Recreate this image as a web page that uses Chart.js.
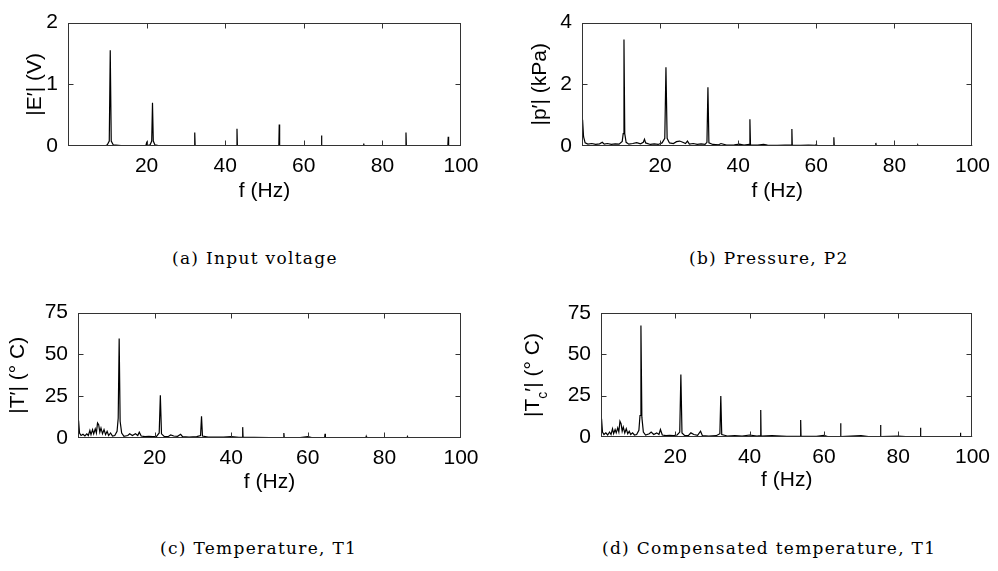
<!DOCTYPE html>
<html>
<head>
<meta charset="utf-8">
<script src="https://cdn.jsdelivr.net/npm/chart.js@4.4.0/dist/chart.umd.min.js"></script>
<style>
body{margin:0;background:#fff;width:998px;height:571px;position:relative;overflow:hidden}
canvas{position:absolute}
.cap{position:absolute;font-family:"DejaVu Serif",serif;font-size:17px;letter-spacing:1.3px;line-height:20px;color:#000;white-space:nowrap}
</style>
</head>
<body>
<canvas id="ca" width="499" height="204" style="left:0;top:0"></canvas>
<canvas id="cb" width="499" height="204" style="left:499px;top:0"></canvas>
<canvas id="cc" width="499" height="205" style="left:0;top:290px"></canvas>
<canvas id="cd" width="499" height="203" style="left:499px;top:290px"></canvas>
<div class="cap" style="left:172px;top:248px">(a) Input voltage</div>
<div class="cap" style="left:689px;top:248px">(b) Pressure, P2</div>
<div class="cap" style="left:160px;top:538px">(c) Temperature, T1</div>
<div class="cap" style="left:602px;top:538px">(d) Compensated temperature, T1</div>
<script>
// frequency axis ticks (Hz)
const xTicks = [20, 40, 60, 80, 100];
const yTicksA = [0, 1, 2];
const yTicksB = [0, 2, 4];
const yTicksT = [0, 25, 50, 75];

// spectra: [f (Hz), magnitude]
const specA = [[0.3,0],[9.5,0.005],[10.0,0.02],[10.5,0.08],[10.75,1.55],[11.0,0.08],[11.5,0.02],[13.5,0.005],
  [19.8,0.005],[20.0,0.05],[20.2,0.005],[20.9,0.02],[21.3,0.08],[21.5,0.70],[21.7,0.08],[22.1,0.02],[23,0.005],
  [32.15,0.005],[32.25,0.22],[32.35,0.005],[42.9,0.005],[43.0,0.28],[43.1,0.005],[53.65,0.01],[53.75,0.35],[53.85,0.01],
  [64.4,0.005],[64.5,0.17],[64.6,0.005],[75.15,0],[75.25,0.04],[75.35,0],[85.9,0],[86.0,0.22],[86.1,0],
  [96.65,0],[96.75,0.15],[96.85,0],[100,0]];

const specB = [[0.15,0.85],[0.4,0.3],[0.8,0.1],[1.5,0.06],[2.5,0.08],[3.5,0.05],[4.5,0.07],[5.2,0.12],[5.7,0.06],
  [6.5,0.08],[7.5,0.05],[8.5,0.07],[9.5,0.06],[10.3,0.15],[10.55,0.4],[10.75,3.45],[10.95,0.4],[11.3,0.12],[12,0.06],
  [13,0.08],[14,0.11],[15,0.07],[15.7,0.12],[16.0,0.22],[16.3,0.1],[17.5,0.05],[18.5,0.07],[19.5,0.05],[20.5,0.1],
  [21.2,0.25],[21.5,2.55],[21.8,0.25],[22.4,0.1],[23.4,0.08],[24.2,0.14],[25.0,0.16],[25.8,0.12],[26.5,0.08],[27.0,0.16],
  [27.5,0.06],[28.5,0.08],[29.5,0.05],[30.5,0.07],[31.5,0.05],[32.0,0.12],[32.25,1.9],[32.5,0.1],[33.5,0.05],[35,0.04],
  [35.6,0.08],[37,0.03],[39,0.04],[40.3,0.06],[41.5,0.03],[42.85,0.05],[43.0,0.87],[43.15,0.04],[45,0.03],[46.5,0.05],
  [47.5,0.03],[50,0.02],[52,0.03],[53.65,0.03],[53.75,0.55],[53.85,0.02],[56,0.02],[58,0.03],[59.8,0.02],[60,0.05],
  [60.2,0.02],[62,0.01],[64.4,0.01],[64.5,0.28],[64.6,0.01],[68,0.01],[72,0.01],[75.15,0.01],[75.25,0.1],[75.35,0.01],
  [80,0.01],[85.9,0.01],[86.0,0.03],[86.1,0.01],[92,0.01],[100,0.01]];

const specC = [[0.15,10.5],[0.4,3],[0.8,1.5],[1.3,2.2],[1.8,1.2],[2.3,2.5],[2.7,1.5],[3.1,4.5],[3.4,2],[3.8,5],[4.1,2.5],
  [4.5,5.5],[4.8,3],[5.1,9],[5.4,8],[5.7,3.5],[6.0,6],[6.4,2.5],[6.8,5],[7.2,2],[7.6,4],[8.0,1.5],[8.5,3],[9.0,1.2],
  [9.6,1.5],[10.2,4],[10.5,12],[10.75,59.5],[11.0,10],[11.4,3],[12,1],[13,1.5],[13.5,2.5],[14.2,1.5],[15,2.5],[15.6,1.5],
  [16.0,3.5],[16.5,1.2],[17.5,0.8],[18.5,1],[19.5,0.8],[20.5,1],[21.2,3],[21.5,25.5],[21.8,2.5],[22.5,1],[23.5,0.8],
  [24.2,1.8],[25,1.2],[26,1],[26.8,2.2],[27.3,0.8],[29,0.5],[31,0.8],[32.0,1.5],[32.25,13],[32.5,1.2],[34,0.5],[36,0.6],
  [38,0.5],[40,0.8],[42,0.4],[42.9,0.6],[43.0,6.5],[43.1,0.5],[46,0.4],[50,0.3],[53.65,0.4],[53.75,3],[53.85,0.3],
  [58,0.3],[60,0.8],[61,0.2],[64.4,0.2],[64.5,2.5],[64.6,0.2],[70,0.2],[75.15,0.2],[75.25,1],[75.35,0.2],[80,0.1],
  [85.9,0.1],[86.0,0.8],[86.1,0.1],[96.75,0.3],[100,0.1]];

const specD = [[0.15,11],[0.4,3],[0.8,1.5],[1.3,2.5],[1.8,1.2],[2.3,3],[2.7,1.5],[3.1,5],[3.4,2],[3.8,4.5],[4.1,2.5],
  [4.5,5.5],[4.8,3],[5.1,9.5],[5.4,8],[5.7,3.5],[6.0,6],[6.4,2.5],[6.8,5],[7.2,2],[7.6,3.5],[8.0,1.5],[8.5,2.5],[9.0,1.2],
  [9.6,1.5],[10.2,4],[10.5,13],[10.75,67.5],[11.0,12],[11.4,3],[12,1.2],[13,2],[13.5,3],[14.2,1.5],[15,2.5],[15.6,1.5],
  [16.0,4.5],[16.5,1.2],[17.5,0.8],[18.5,1],[19.5,0.8],[20.5,1.2],[21.2,3],[21.5,37.8],[21.8,2.5],[22.5,1],[23.5,0.8],
  [24.2,2.5],[25,1.5],[26,1],[26.8,3.5],[27.3,0.8],[29,0.6],[31,0.8],[32.0,2],[32.25,24.8],[32.5,1.5],[34,0.6],[36,0.8],
  [38,0.5],[40,1.2],[42,0.5],[42.9,0.8],[43.0,16.3],[43.1,0.6],[46,0.8],[50,0.4],[53.65,0.5],[53.75,10.3],[53.85,0.4],
  [58,0.4],[60,1],[61,0.3],[64.4,0.3],[64.5,8.3],[64.6,0.3],[70,0.8],[72,0.2],[75.15,0.3],[75.25,7.3],[75.35,0.3],
  [80,0.6],[82,0.2],[85.9,0.2],[86.0,5.6],[86.1,0.2],[91,0.3],[96.65,0.2],[96.75,2.6],[96.85,0.2],[100,0.1]];

const tickFont = {family: "'Liberation Sans', Arial, sans-serif", size: 21};

// matlab style box with inward ticks on all four sides
const framePlugin = {
  id: 'frame',
  afterDraw(chart) {
    const {ctx, chartArea: a, scales: {x, y}} = chart;
    const L = Math.round(a.left) + 0.5, R = Math.round(a.right) - 0.5;
    const T = Math.round(a.top) + 0.5, B = Math.round(a.bottom) - 0.5;
    ctx.save();
    ctx.strokeStyle = '#333';
    ctx.lineWidth = 1;
    ctx.strokeRect(L, T, R - L, B - T);
    ctx.beginPath();
    x.ticks.forEach(t => {
      const px = Math.round(x.getPixelForValue(t.value)) + 0.5;
      if (px <= L + 1 || px >= R - 1) return;
      ctx.moveTo(px, B); ctx.lineTo(px, B - 5);
      ctx.moveTo(px, T); ctx.lineTo(px, T + 5);
    });
    y.ticks.forEach(t => {
      const py = Math.round(y.getPixelForValue(t.value)) + 0.5;
      if (py <= T + 1 || py >= B - 1) return;
      ctx.moveTo(L, py); ctx.lineTo(L + 5, py);
      ctx.moveTo(R, py); ctx.lineTo(R - 5, py);
    });
    ctx.stroke();
    ctx.restore();
  }
};

// rotated y title, with optional subscript part
const yTitlePlugin = {
  id: 'yTitle',
  afterDraw(chart, args, opts) {
    const {ctx, chartArea: a} = chart;
    const big = '21px "Liberation Sans"', small = '14px "Liberation Sans"';
    const parts = opts.parts;
    const widths = [];
    let w = 0;
    ctx.save();
    for (let i = 0; i < parts.length; i++) {
      ctx.font = parts[i].sub ? small : big;
      widths[i] = ctx.measureText(parts[i].text).width;
      w += widths[i];
    }
    ctx.translate(opts.x, (a.top + a.bottom) / 2);
    ctx.rotate(-Math.PI / 2);
    ctx.textBaseline = 'middle';
    ctx.fillStyle = '#000';
    let cx = -w / 2;
    for (let i = 0; i < parts.length; i++) {
      ctx.font = parts[i].sub ? small : big;
      ctx.fillText(parts[i].text, cx, parts[i].sub ? 10 : 0);
      cx += widths[i];
    }
    ctx.restore();
  }
};

// area = [left, top, right, bottom] of the plot box inside the canvas
function drawPanel(id, spec, yTicks, area, title) {
  const cv = document.getElementById(id);
  new Chart(cv, {
    type: 'line',
    data: {
      datasets: [{
        data: spec.map(p => ({x: p[0], y: p[1]})),
        borderColor: '#000',
        borderWidth: 1.2,
        pointRadius: 0,
        tension: 0,
        fill: false
      }]
    },
    options: {
      responsive: false,
      animation: false,
      events: [],
      layout: {padding: {left: 0, top: area[1], right: cv.width - area[2], bottom: 0}},
      plugins: {legend: {display: false}, tooltip: {enabled: false}, yTitle: title},
      scales: {
        x: {
          type: 'linear', min: 0, max: 100,
          afterBuildTicks: s => { s.ticks = xTicks.map(v => ({value: v})); },
          afterFit: s => { s.height = cv.height - area[3]; },
          grid: {display: false, drawTicks: false},
          border: {display: false},
          ticks: {color: '#000', font: tickFont, padding: 8, maxRotation: 0, autoSkip: false},
          title: {display: true, text: 'f (Hz)', color: '#000', font: tickFont, padding: 0}
        },
        y: {
          type: 'linear', min: 0, max: yTicks[yTicks.length - 1],
          afterBuildTicks: s => { s.ticks = yTicks.map(v => ({value: v})); },
          afterFit: s => { s.width = area[0]; },
          grid: {display: false, drawTicks: false},
          border: {display: false},
          ticks: {color: '#000', font: tickFont, padding: 10}
        }
      }
    },
    plugins: [framePlugin, yTitlePlugin]
  });
}

drawPanel('ca', specA, yTicksA, [68, 16, 461, 146], {x: 35, parts: [{text: '|E′| (V)'}]});
drawPanel('cb', specB, yTicksB, [83, 15, 476, 146], {x: 41, parts: [{text: '|p′| (kPa)'}]});
drawPanel('cc', specC, yTicksT, [78, 21, 461, 148], {x: 18, parts: [{text: '|T′| (° C)'}]});
drawPanel('cd', specD, yTicksT, [102, 23, 476, 147], {x: 34, parts: [{text: '|T'}, {text: 'c', sub: true}, {text: '′| (° C)'}]});
</script>
</body>
</html>
